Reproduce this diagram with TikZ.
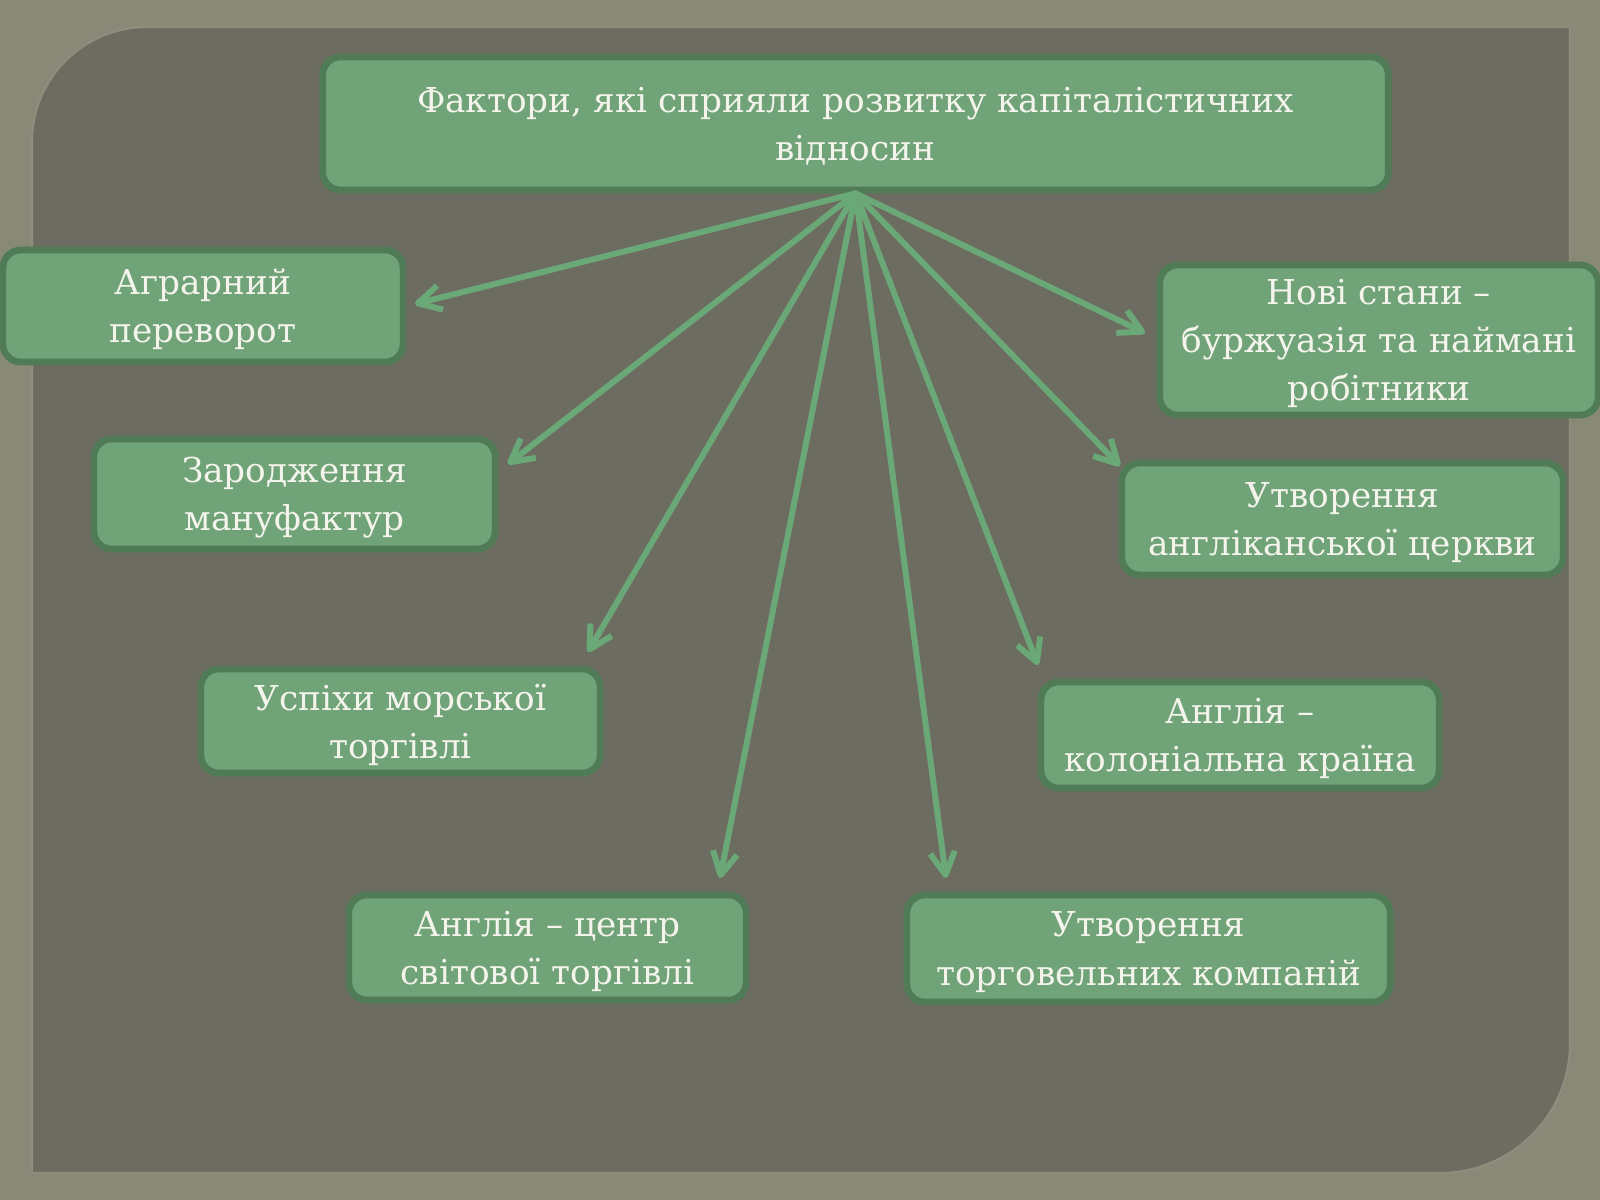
\documentclass[tikz,border=0pt]{standalone}
\usepackage{fontspec}
\setmainfont{DejaVu Serif}
\usetikzlibrary{arrows.meta}

\definecolor{bgout}{HTML}{898978}
\definecolor{bgpanel}{HTML}{6C6C60}
\definecolor{panelrim}{HTML}{8E8E7E}
\definecolor{boxfill}{HTML}{70A378}
\definecolor{boxline}{HTML}{4F7C57}
\definecolor{boxtext}{HTML}{F4F4EC}
\definecolor{arrgreen}{HTML}{6BA877}

\begin{document}
\begin{tikzpicture}[x=0.01cm, y=-0.01cm,
        factor/.style={draw=boxline, fill=boxfill, line width=1.9pt, rounded corners=0.18cm,
                       text=boxtext, align=center, inner sep=0pt, text depth=0pt,
                       font=\fontsize{9.75pt}{13.7pt}\selectfont},
        arr/.style={arrgreen, line width=1.7pt, line cap=round,
                    -{Straight Barb[length=6.5pt, width=7pt, line join=round]}}]
        \useasboundingbox (0,0) rectangle (1600,1200);

        % Тло
        \fill[bgout] (0,0) rectangle (1600,1200);
        \fill[bgpanel] (32,1173) -- (32,142) arc[start angle=180, end angle=270, radius=115]
              -- (1570,27) -- (1570,1043) arc[start angle=0, end angle=90, radius=130] -- cycle;
        \draw[panelrim, line width=0.6pt] (32,1173) -- (32,142) arc[start angle=180, end angle=270, radius=115]
              -- (1570,27) -- (1570,1043) arc[start angle=0, end angle=90, radius=130] -- cycle;

        % Заголовок
        \node[factor, minimum width=10.65cm, minimum height=1.33cm] (title) at (855.5,123.5)
              {Фактори, які сприяли розвитку капіталістичних\\відносин};

        % Кінці стрілок
        \coordinate (tAgr) at (415,304);
        \coordinate (tZar) at (508,464);
        \coordinate (tUsp) at (588,652);
        \coordinate (tCen) at (720,878);
        \coordinate (tTrg) at (946,878);
        \coordinate (tKol) at (1038,665);
        \coordinate (tAng) at (1120,466);
        \coordinate (tNov) at (1145,333);

        % Стрілки
        \foreach \t in {tAgr,tZar,tUsp,tCen,tTrg,tKol,tAng,tNov}
            \draw[arr] (title.south) -- (\t);

        % Фактори
        \node[factor, minimum width=4.00cm, minimum height=1.12cm] (agr) at (203,306) {Аграрний\\переворот};
        \node[factor, minimum width=4.01cm, minimum height=1.10cm] (zar) at (294.5,494) {Зародження\\мануфактур};
        \node[factor, minimum width=3.99cm, minimum height=1.04cm] (usp) at (400.5,721) {Успіхи морської\\торгівлі};
        \node[factor, minimum width=3.97cm, minimum height=1.05cm] (cen) at (547.5,947.5) {Англія – центр\\світової торгівлі};
        \node[factor, minimum width=4.83cm, minimum height=1.07cm] (trg) at (1148.5,948.5) {Утворення\\торговельних компаній};
        \node[factor, minimum width=3.98cm, minimum height=1.06cm] (kol) at (1240,735) {Англія –\\колоніальна країна};
        \node[factor, minimum width=4.41cm, minimum height=1.12cm] (ang) at (1342.5,519) {Утворення\\англіканської церкви};
        \node[factor, minimum width=4.38cm, minimum height=1.50cm] (nov) at (1379,340) {Нові стани –\\буржуазія та наймані\\робітники};
    \end{tikzpicture}
\end{document}
